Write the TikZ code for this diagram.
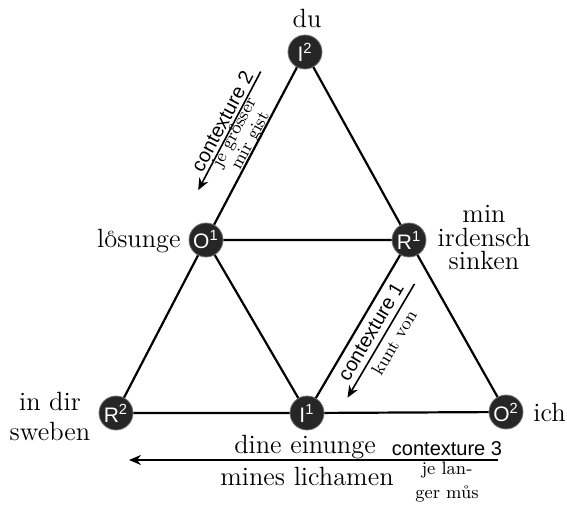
\documentclass[tikz,border=0pt]{standalone}
\usepackage{fontspec}
\setsansfont{Liberation Sans}
\usetikzlibrary{arrows.meta}
% o mit uebergeschriebenem e
\newcommand\ovre{{\ooalign{o\cr\hidewidth\raisebox{0.95ex}{\fontsize{6}{6}\selectfont e}\hidewidth\cr}}}
\tikzset{
  pt/.style={circle, fill=black!85, draw=black!55, line width=0.4pt,
    minimum size=17pt, inner sep=0pt, text=white,
    font=\sffamily\fontsize{10.5}{10.5}\selectfont},
  lbl/.style={font=\fontsize{13.2}{11.75}\selectfont, align=center, inner sep=0pt},
  ctx/.style={font=\sffamily\fontsize{10}{10}\selectfont, inner sep=0pt},
  sml/.style={font=\fontsize{9}{9}\selectfont, align=center, inner sep=0pt},
  flow/.style={-{Stealth[length=6pt,width=5pt]}, line width=0.8pt},
}
\begin{document}
\begin{tikzpicture}[x=0.5pt, y=-0.5pt]
\useasboundingbox (0,0) rectangle (567,509);
%
\node[pt] (I2) at (305,52) {I\textsuperscript{2}};
\node[pt] (O1) at (206,240) {O\textsuperscript{1}};
\node[pt] (R1) at (409,240) {R\textsuperscript{1}};
\node[pt] (R2) at (116,413) {R\textsuperscript{2}};
\node[pt] (I1) at (307,413) {I\textsuperscript{1}};
\node[pt] (O2) at (506,412) {O\textsuperscript{2}};
%
\draw[line width=1.1pt]
(I2) -- (O1) -- (R2) -- (I1) -- (O2) -- (R1) -- (I2)
(O1) -- (R1) -- (I1) -- (O1);
%
\node[lbl, anchor=base] (du) at (307,27) {du};
\node[lbl, anchor=base east] (losunge) at (181,247) {l\ovre sunge};
\node[lbl] (irdensch) at (484,238) {min\\irdensch\\sinken};
\node[lbl, font=\fontsize{13.2}{15}\selectfont] (sweben) at (50,416) {in dir\\sweben};
\node[lbl, anchor=west] (ich) at (533,412) {ich};
\node[lbl, anchor=base] (einunge) at (305,453) {dine einunge};
\node[lbl, anchor=base] (lichamen) at (307,485) {mines lichamen};
%
% contexture 1
\coordinate (c1a) at (414.5,283.9);
\coordinate (c1b) at (347.5,397.7);
\draw[flow] (c1a) -- (c1b);
\node[ctx, rotate=59.5] (ctx1) at (370.8,331.4) {contexture 1};
\node[sml, rotate=59.5] (kunt) at (394,342.7) {kunt von};
%
% contexture 2
\coordinate (c2a) at (260.7,71.6);
\coordinate (c2b) at (198.2,190.2);
\draw[flow] (c2a) -- (c2b);
\node[ctx, rotate=62] (ctx2) at (222.1,121.4) {contexture 2};
\node[sml, rotate=62] (grosser) at (243.2,137) {je gr\ovre sser\\mir gist};
%
% contexture 3
\coordinate (c3a) at (498,460);
\coordinate (c3b) at (129,460);
\draw[flow] (c3a) -- (c3b);
\node[ctx, anchor=base] (ctx3) at (447,455) {contexture 3};
\node[sml, font=\fontsize{9}{12}\selectfont, anchor=north] (langer) at (447,461.5) {je lan-\\ger můs};
%
\end{tikzpicture}
\end{document}
